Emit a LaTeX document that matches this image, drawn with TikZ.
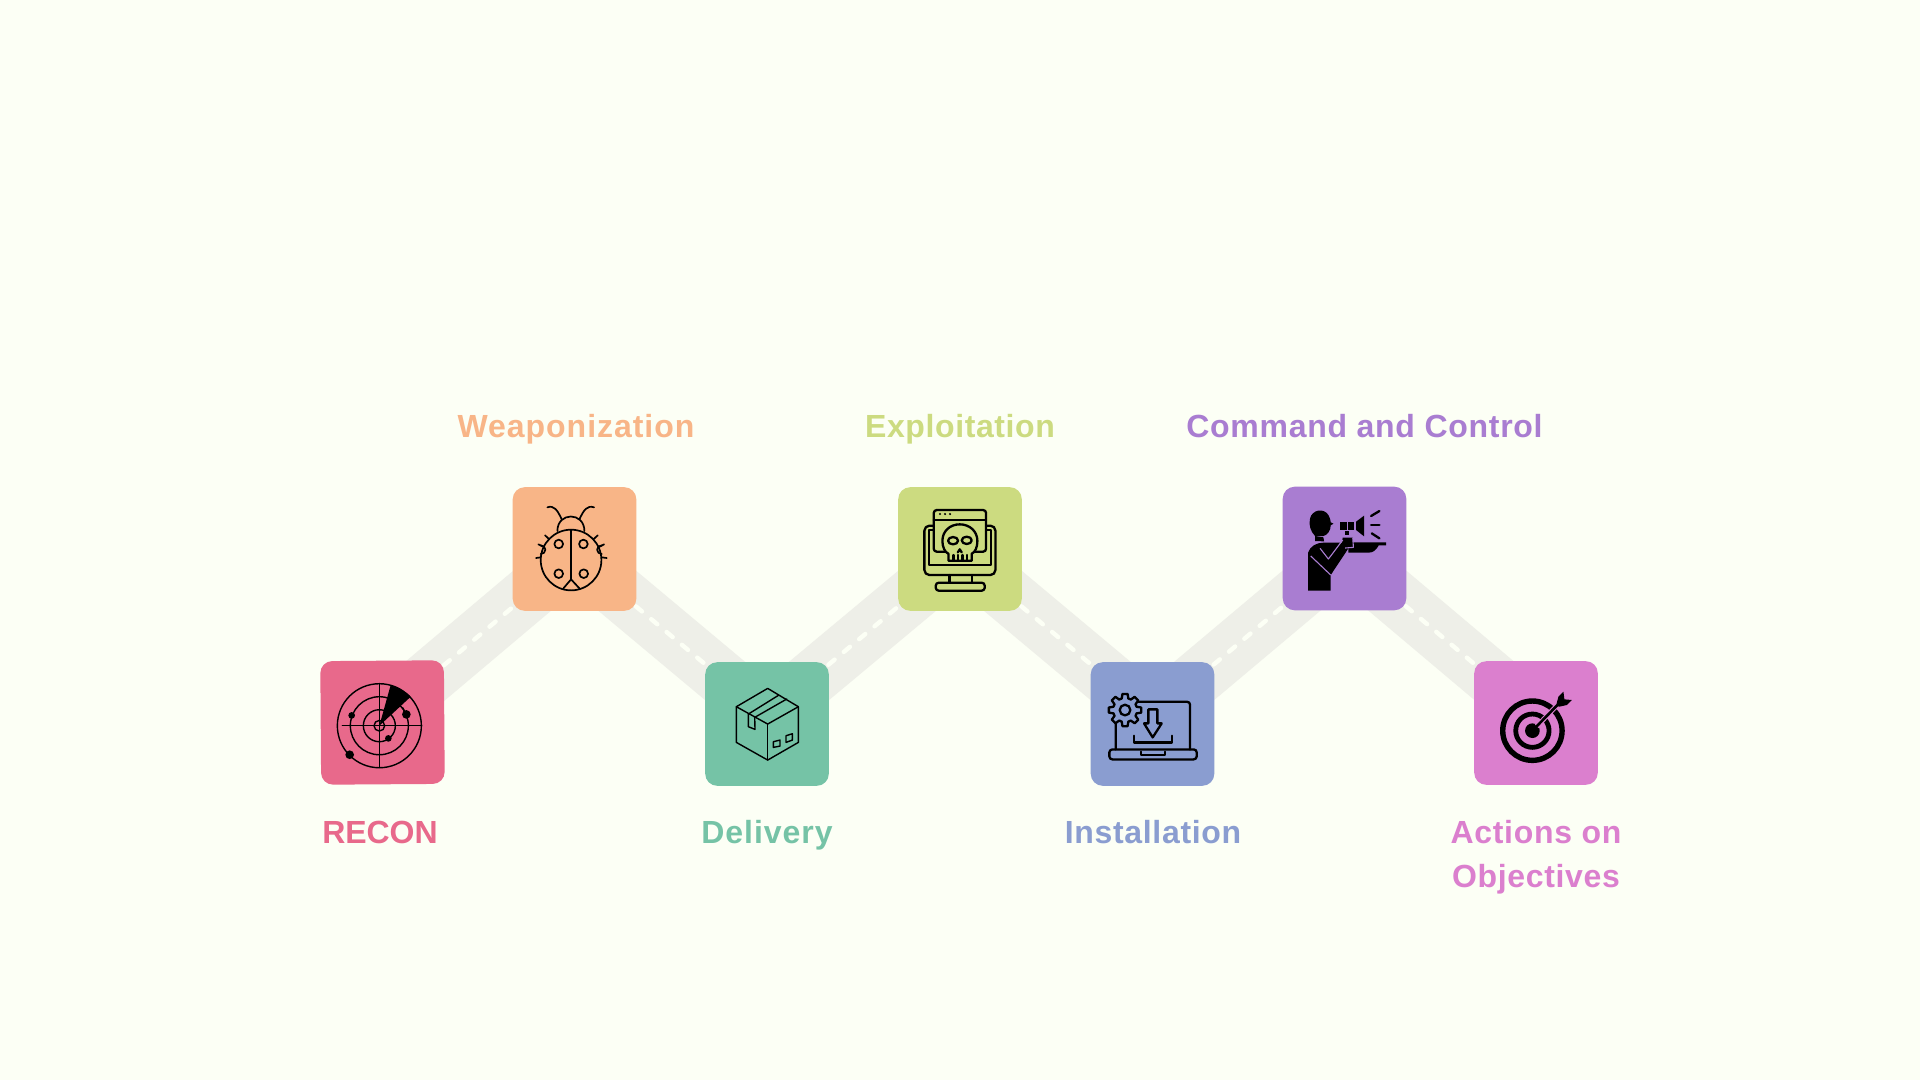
\documentclass[tikz,border=0pt]{standalone}
\usepackage{fontspec}
\setmainfont{Liberation Sans}
\usetikzlibrary{backgrounds}
\definecolor{paper}{RGB}{252,255,245}
\definecolor{roadgray}{RGB}{238,239,232}
\definecolor{reconpink}{RGB}{232,105,139}
\definecolor{weaponorange}{RGB}{248,181,135}
\definecolor{deliverygreen}{RGB}{117,195,166}
\definecolor{exploitlime}{RGB}{204,219,128}
\definecolor{installblue}{RGB}{138,157,208}
\definecolor{commandpurple}{RGB}{169,125,209}
\definecolor{actionsmagenta}{RGB}{219,127,206}
\tikzset{
  stepbox/.style={minimum size=61.8pt, inner sep=0pt, rounded corners=6pt},
  steplabel/.style={anchor=base, align=center, font=\bfseries\addfontfeature{LetterSpace=#1}\fontsize{16}{22}\selectfont},
  road/.style={line width=27.5pt, roadgray},
  roaddash/.style={line width=2.2pt, paper, line cap=round, dash pattern=on 4pt off 6pt},
  zoomA/.style={shift={(300,460)}, x=0.1667pt, y=-0.1667pt},
  zoomB/.style={shift={(690,460)}, x=0.1667pt, y=-0.1667pt},
  zoomC/.style={shift={(1070,460)}, x=0.1667pt, y=-0.1667pt},
  zoomD/.style={shift={(1270,640)}, x=0.1667pt, y=-0.1667pt},
  thinicon/.style={line width=0.7pt, line join=round, line cap=round},
  boldicon/.style={line width=1.15pt, line join=round, line cap=round}
}
\begin{document}
\begin{tikzpicture}[x=0.5pt, y=-0.5pt]
  \useasboundingbox (0,0) rectangle (1920,1080);

  % Kacheln, dazu je ein Punkt auf der Strasse
  \foreach \name/\x/\y/\col/\lift/\turn in {
      recon/382.5/722.5/reconpink/2.75pt/0.4,
      weapon/574.5/549/weaponorange/-3pt/0,
      delivery/767/724/deliverygreen/4pt/0,
      exploit/960/549/exploitlime/-3pt/0,
      install/1152.5/724/installblue/4pt/0,
      command/1344.5/548.5/commandpurple/-3pt/0,
      actions/1536/723/actionsmagenta/3.5pt/0} {
    \node[stepbox, fill=\col, rotate=\turn] (\name) at (\x,\y) {};
    \coordinate (\name road) at ([yshift=\lift]\name.center);
  }

  % Strasse liegt unter den Kacheln
  \begin{scope}[on background layer]
    \fill[paper] (0,0) rectangle (1920,1080);
    \foreach \a/\b in {recon/weapon, weapon/delivery, delivery/exploit, exploit/install, install/command, command/actions} {
      \draw[road] (\a road) -- (\b road);
    }
    \foreach \a/\b in {recon/weapon, weapon/delivery, delivery/exploit, exploit/install, install/command, command/actions} {
      \draw[roaddash] (\a road) -- (\b road);
    }
  \end{scope}

  % Beschriftungen
  \node[steplabel=-0.3, text=reconpink] (reconlabel) at (380,843) {RECON};
  \node[steplabel=3, text=weaponorange] (weaponlabel) at (576,437) {Weaponization};
  \node[steplabel=3, text=deliverygreen] (deliverylabel) at (767,843) {Delivery};
  \node[steplabel=1.9, text=exploitlime] (exploitlabel) at (960,437) {Exploitation};
  \node[steplabel=2.1, text=installblue] (installlabel) at (1153,843) {Installation};
  \node[steplabel=2.2, text=commandpurple] (commandlabel) at (1364.5,437) {Command and Control};
  \node[steplabel=2.1, text=actionsmagenta] (actionslabel) at (1536,887) {Actions on\\Objectives};

  % Radar
  \begin{scope}[zoomA, thinicon]
    \foreach \r in {126,87,48,16} {
      \draw (238,797) circle (\r);
    }
    \draw (238,670) -- (238,922);
    \draw (127,797) -- (365,797);
    \fill (238,797) -- (272,675) .. controls (295,682) and (315,693) .. (332,710) -- cycle;
    \foreach \bx/\by/\br in {155/766/10, 319/763/13, 265/835/10, 149/884/13} {
      \fill (\bx,\by) circle (\br);
    }
    \draw (319,763) -- (308,743);
  \end{scope}

  % Marienkaefer
  \begin{scope}[zoomA, thinicon, line width=0.85pt]
    \draw (813,300) circle (91);
    \draw (813,209) -- (813,358) -- (790,385);
    \draw (813,358) -- (838,385);
    \draw (772,213) .. controls (772,155) and (853,155) .. (853,213);
    \draw (785,178) .. controls (772,150) and (762,135) .. (742,142);
    \draw (838,178) .. controls (851,150) and (861,135) .. (882,142);
    \foreach \sx/\sy in {776/252, 850/252, 776/341, 851/341} {
      \draw (\sx,\sy) circle (13);
    }
    \draw (722,282) arc (90:-90:14 and 13);
    \draw (905,282) arc (90:270:14 and 13);
    \draw (708,294) -- (722,292);
    \draw (715,253) -- (733,262);
    \draw (735,226) -- (748,238);
    \draw (920,294) -- (905,292);
    \draw (912,253) -- (895,262);
    \draw (893,226) -- (880,238);
  \end{scope}

  % Paket
  \begin{scope}[zoomB, thinicon]
    \draw (233,685) -- (325,740) -- (325,847) -- (233,900) -- (139,847) -- (139,740) -- cycle;
    \draw (139,740) -- (233,792) -- (325,740);
    \draw (233,792) -- (233,900);
    \draw (175,762) -- (265,706);
    \draw (194,772) -- (290,717);
    \draw (175,762) -- (175,800) -- (195,808) -- (194,772);
    \draw (250,845) -- (270,840) -- (270,858) -- (250,862) -- cycle;
    \draw (288,827) -- (307,821) -- (307,840) -- (288,847) -- cycle;
  \end{scope}

  % Monitor mit Schaedel
  \begin{scope}[zoomB, boldicon]
    \draw[rounded corners=2.5pt] (703,197) rectangle (916,345);
    \draw (731,210) -- (716,210) -- (716,315) -- (903,315) -- (903,210) -- (888,210);
    \draw (778,345) -- (778,368);
    \draw (845,345) -- (845,368);
    \draw[rounded corners=1.5pt] (737,368) rectangle (884,392);
    \draw[rounded corners=1.5pt, fill=exploitlime] (731,150) rectangle (888,275);
    \draw (731,180) -- (888,180);
    \foreach \dx in {750,765,780} {
      \fill (\dx,162) circle (3.5);
    }
    \draw[fill=exploitlime] (775,302) -- (775,281) .. controls (765,277) and (757,262) .. (757,243)
      .. controls (757,213) and (780,193) .. (809,193)
      .. controls (838,193) and (862,213) .. (862,243)
      .. controls (862,262) and (855,277) .. (845,281) -- (845,302) -- cycle;
    \draw (789,242) ellipse (15 and 11);
    \draw (830,241) ellipse (15 and 11);
    \draw (803,277) -- (809,268) -- (815,277);
    \foreach \tx in {790,803,817,831} {
      \draw (\tx,285) -- (\tx,302);
    }
  \end{scope}

  % Laptop mit Zahnrad
  \begin{scope}[zoomC, boldicon]
    \draw[rounded corners=1.5pt] (137,868) -- (137,725) -- (360,725) -- (360,868);
    \draw[rounded corners=1.5pt] (118,868) -- (380,868) -- (380,898) -- (118,898) -- cycle;
    \draw (212,875) -- (212,885) -- (285,885) -- (285,875);
    \draw (235,748) -- (262,748) -- (262,790) -- (275,790) -- (248,832) -- (222,790) -- (235,790) -- cycle;
    \draw (192,827) -- (192,847) -- (306,847) -- (306,827);
    \begin{scope}[shift={(165,750)}]
      \draw[fill=installblue] (-9:49) \foreach \a in {0,45,...,315} {
        -- (\a-9:49) -- (\a+9:49) -- (\a+16:36) -- (\a+29:36)
      } -- cycle;
      \draw (0,0) circle (16);
    \end{scope}
  \end{scope}

  % Mann mit Megafon
  \begin{scope}[zoomC, boldicon]
    \fill (735,228) .. controls (722,215) and (715,195) .. (720,175)
      .. controls (726,150) and (760,142) .. (775,165)
      .. controls (780,175) and (782,182) .. (782,187) -- (790,191) -- (782,196)
      .. controls (782,212) and (772,225) .. (760,228) -- cycle;
    \fill (735,228) -- (760,232) -- (762,244) -- (735,243) -- cycle;
    \fill (714,392) -- (714,278) .. controls (720,258) and (740,248) .. (760,248)
      -- (815,248) -- (818,233) -- (848,233) -- (850,262) -- (835,265) -- (782,345) -- (782,392) -- cycle;
    \fill (835,247) -- (948,247) -- (948,256) -- (926,256)
      .. controls (918,270) and (910,278) .. (895,278) -- (835,278) -- cycle;
    \fill (810,185) rectangle (830,210);
    \fill (833,185) rectangle (853,210);
    \fill (858,185) -- (882,167) -- (882,229) -- (858,210) -- cycle;
    \fill (826,214) rectangle (838,226);
    \draw[commandpurple, line width=0.55pt, line cap=butt] (722,288) -- (782,345);
    \draw[commandpurple, line width=0.55pt, line cap=butt] (750,265) -- (775,297) -- (818,240);
    \draw[commandpurple, line width=0.55pt, line cap=butt] (848,233) -- (850,262) -- (825,264);
    \draw (903,168) -- (928,153);
    \draw (903,195) -- (928,195);
    \draw (905,220) -- (928,235);
  \end{scope}

  % Zielscheibe mit Pfeil
  \begin{scope}[zoomD]
    \draw[line width=2.7pt] (787,272) circle (89);
    \draw[line width=2.4pt] (787,272) circle (50);
    \fill (787,272) circle (22);
    \draw[actionsmagenta, line width=2.4pt] (800,259) -- (860,197);
    \draw[line width=1.3pt] (787,272) -- (862,195);
    \fill (858,197) -- (865,170) -- (880,155) -- (883,178) -- (905,180) -- (890,195) -- (868,200) -- cycle;
  \end{scope}
\end{tikzpicture}
\end{document}
